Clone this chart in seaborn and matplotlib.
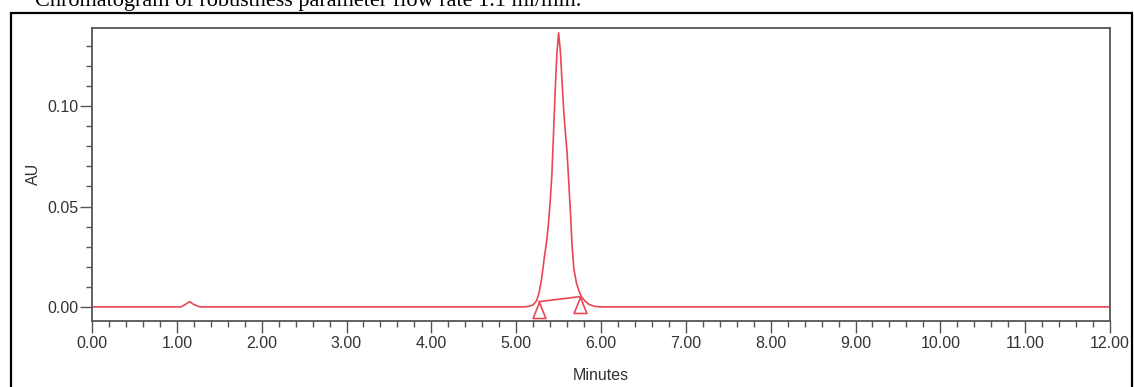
import matplotlib
matplotlib.use('Agg')
import matplotlib.pyplot as plt
import seaborn as sns
import pandas as pd
from matplotlib.path import Path
from matplotlib.ticker import MultipleLocator, FormatStrFormatter
from matplotlib.patches import Rectangle

# ---- data ----
time_min = [0.00, 1.05, 1.10, 1.15, 1.20, 1.27, 5.10, 5.15, 5.20, 5.24, 5.27,
            5.30, 5.33, 5.36, 5.38, 5.40, 5.42, 5.44, 5.46, 5.48, 5.50, 5.52,
            5.54, 5.56, 5.58, 5.60, 5.62, 5.64, 5.66, 5.68, 5.71, 5.74, 5.77,
            5.81, 5.86, 5.92, 5.98, 12.00]
absorbance_au = [0.0, 0.0, 0.0012, 0.0026, 0.0012, 0.0, 0.0, 0.0003, 0.001,
                 0.003, 0.007, 0.014, 0.024, 0.033, 0.041, 0.052, 0.065, 0.086,
                 0.108, 0.126, 0.1366, 0.128, 0.113, 0.098, 0.087, 0.077, 0.062,
                 0.047, 0.030, 0.019, 0.012, 0.008, 0.005, 0.003, 0.0012,
                 0.0003, 0.0, 0.0]
baseline_time = [5.27, 5.75]
baseline_au = [0.0026, 0.0051]

x_ticks = [0, 1, 2, 3, 4, 5, 6, 7, 8, 9, 10, 11, 12]
y_ticks = [0.00, 0.05, 0.10]
caption = "Chromatogram of robustness parameter flow rate 1.1 ml/min."

sns.set_theme(style='white')
plt.rcParams['font.family'] = ['Liberation Sans', 'DejaVu Sans']

W, H = 1134, 387
fig = plt.figure(figsize=(W / 100, H / 100), dpi=100)
fig.patch.set_facecolor('white')
ax = fig.add_axes([92 / W, 1 - 320.5 / H, (1110 - 92) / W, (320.5 - 28) / H])

red = '#ea4653'
df = pd.DataFrame({'Minutes': time_min, 'AU': absorbance_au})
sns.lineplot(data=df, x='Minutes', y='AU', ax=ax, color=red, lw=1.2,
             estimator=None, sort=False)
bl = pd.DataFrame({'t': baseline_time, 'a': baseline_au})
sns.lineplot(data=bl, x='t', y='a', ax=ax, color=red, lw=1.2, estimator=None)

tri = Path([(0, 0), (-0.4, -1), (0.4, -1), (0, 0)],
           [Path.MOVETO, Path.LINETO, Path.LINETO, Path.CLOSEPOLY])
ax.plot(baseline_time, baseline_au, linestyle='none', marker=tri,
        markersize=32 * 0.72, markerfacecolor='none', markeredgecolor=red,
        markeredgewidth=1.2, clip_on=False)

ax.set_xlim(0, 12)
ax.set_ylim(-0.0068, 0.139)
ax.set_xticks(x_ticks)
ax.set_yticks(y_ticks)
ax.xaxis.set_major_formatter(FormatStrFormatter('%.2f'))
ax.yaxis.set_major_formatter(FormatStrFormatter('%.2f'))
ax.xaxis.set_minor_locator(MultipleLocator(0.2))
ax.yaxis.set_minor_locator(MultipleLocator(0.01))

spine_c = '#555555'
for s in ax.spines.values():
    s.set_visible(True)
    s.set_color(spine_c)
    s.set_linewidth(1.3)

ax.tick_params(which='major', direction='out', length=8.5, width=1.0,
               color=spine_c, labelsize=11.5, labelcolor='#333333')
ax.tick_params(which='minor', direction='out', length=4.3, width=1.0,
               color=spine_c)
ax.tick_params(axis='y', which='both', left=True, pad=1)
ax.tick_params(axis='x', which='both', bottom=True, pad=3)

ax.set_xlabel('Minutes', fontsize=11.5, color='#333333')
ax.set_ylabel('AU', fontsize=11.5, color='#333333')
ax.xaxis.label.set_va('center')
ax.xaxis.set_label_coords(0.5, (320.5 - 376) / 292.5)
ax.yaxis.label.set_va('center')
ax.yaxis.set_label_coords((33 - 92) / 1018, 0.5)

# outer frame and caption (caption is cut by the top edge as in the source)
fig.patches.append(Rectangle((11 / W, -0.1), (1132 - 11) / W, 1.1 - 13 / H,
                             transform=fig.transFigure, fill=False,
                             edgecolor='black', linewidth=1.6))
fig.text(35 / W, 1 - 6 / H, caption, family='Liberation Serif', fontsize=16,
         va='baseline', ha='left', color='black')

fig.savefig('out.png', dpi=100)
